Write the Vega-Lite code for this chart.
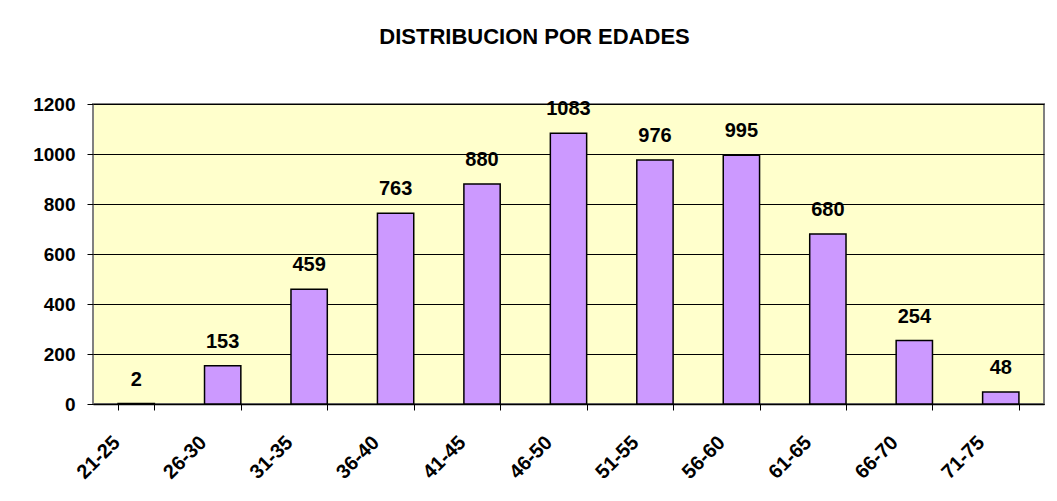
{
  "$schema": "https://vega.github.io/schema/vega-lite/v6.json",
  "width": 951,
  "height": 300,
  "autosize": {"type": "none"},
  "padding": {"left": 93, "top": 104, "right": 13, "bottom": 97},
  "background": "white",
  "title": {
    "text": "DISTRIBUCION POR EDADES",
    "font": "Liberation Sans",
    "fontSize": 22,
    "fontWeight": "bold",
    "color": "black",
    "anchor": "middle",
    "dx": -34,
    "offset": 46
  },
  "config": {
    "view": {"fill": "#FFFFCC", "stroke": "#808080", "strokeWidth": 2},
    "font": "Liberation Sans"
  },
  "data": {
    "values": [
      {"edad": "21-25", "n": 2},
      {"edad": "26-30", "n": 153},
      {"edad": "31-35", "n": 459},
      {"edad": "36-40", "n": 763},
      {"edad": "41-45", "n": 880},
      {"edad": "46-50", "n": 1083},
      {"edad": "51-55", "n": 976},
      {"edad": "56-60", "n": 995},
      {"edad": "61-65", "n": 680},
      {"edad": "66-70", "n": 254},
      {"edad": "71-75", "n": 48}
    ]
  },
  "encoding": {
    "x": {
      "field": "edad",
      "type": "nominal",
      "sort": null,
      "scale": {"paddingInner": 0.58, "paddingOuter": 0.29},
      "axis": {
        "title": null,
        "labelAngle": -45,
        "labelFontSize": 20,
        "labelFontWeight": "bold",
        "labelColor": "black",
        "labelPadding": 22,
        "labelOffset": -27,
        "tickBand": "extent",
        "tickColor": "black",
        "tickSize": 6,
        "domainColor": "black",
        "domainWidth": 1.5
      }
    },
    "y": {
      "field": "n",
      "type": "quantitative",
      "scale": {"domain": [0, 1200], "nice": false},
      "axis": {
        "title": null,
        "format": "d",
        "values": [0, 200, 400, 600, 800, 1000, 1200],
        "labelFontSize": 19,
        "labelFontWeight": "bold",
        "labelColor": "black",
        "labelPadding": 12,
        "tickColor": "black",
        "tickSize": 6,
        "domain": false,
        "grid": true,
        "gridColor": "black",
        "gridWidth": 1,
        "gridOpacity": 1
      }
    }
  },
  "layer": [
    {
      "mark": {"type": "bar", "fill": "#CC99FF", "stroke": "black", "strokeWidth": 1.5}
    },
    {
      "mark": {"type": "text", "baseline": "bottom", "dy": -14, "fontSize": 20, "fontWeight": "bold", "color": "black"},
      "encoding": {"text": {"field": "n", "type": "quantitative"}}
    }
  ]
}
